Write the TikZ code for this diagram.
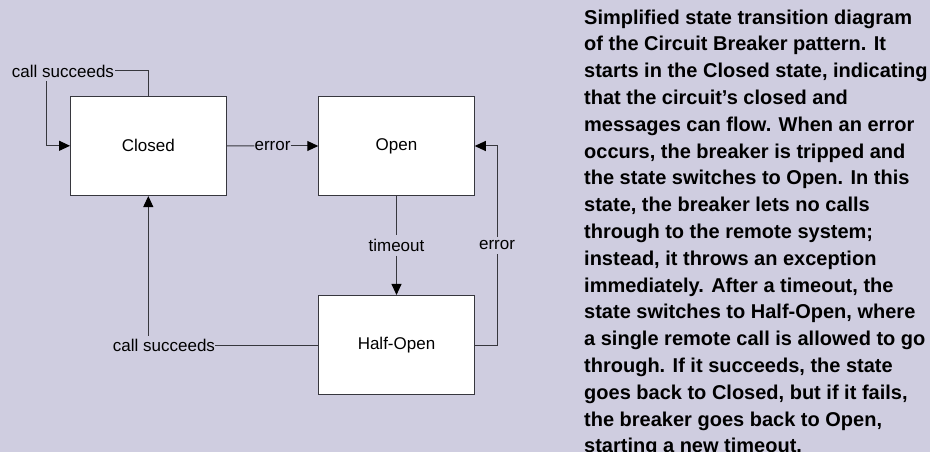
\documentclass[tikz,border=0pt]{standalone}
\usepackage{fontspec}
\setmainfont{Liberation Sans}
\usetikzlibrary{arrows.meta}
\definecolor{bgc}{RGB}{207,205,224}
\definecolor{linec}{RGB}{55,55,62}
\begin{document}
\begin{tikzpicture}[x=1bp,y=-1bp,
  statebox/.style={draw=linec,fill=white,line width=1bp,minimum width=155.5bp,minimum height=99.5bp,inner sep=0pt,font=\fontsize{17bp}{20bp}\selectfont},
  lbl/.style={inner sep=1bp,font=\fontsize{17bp}{20bp}\selectfont,text=black},
  conn/.style={draw=linec,line width=1bp},
  arr/.style={conn,-{Triangle[length=11bp,width=10bp,color=black]}}]
\fill[bgc] (0,0) rectangle (930,452);
\useasboundingbox (0,0) rectangle (930,452);
\node[statebox] (closed) at (148.3,145.8) {Closed};
\node[statebox] (open) at (396.5,146) {Open};
\node[statebox] (half) at (396.5,345.2) {Half-Open};
\node[lbl] (cs1) at (63,71) {call succeeds};
\node[lbl,inner xsep=0pt] (e1) at (272.5,146) {error};
\node[lbl,inner ysep=4bp] (to) at (396.5,245.5) {timeout};
\node[lbl,inner ysep=4bp] (e2) at (497,245.5) {error};
\node[lbl,inner xsep=0pt] (cs2) at (164,345.2) {call succeeds};
\draw[conn] (cs1.east) -| (closed.north);
\draw[arr] ([xshift=36bp,yshift=-3bp]cs1.south west) |- (closed.west);
\draw[conn] (closed.east) -- (e1.west);
\draw[arr] (e1.east) -- (open.west);
\draw[conn] (open.south) -- (to.north);
\draw[arr] (to.south) -- (half.north);
\draw[conn] (half.east) -| (e2.south);
\draw[arr] (e2.north) |- (open.east);
\draw[conn] (cs2.east) -- (half.west);
\draw[arr] ([yshift=2bp]cs2.north -| closed.south) -- (closed.south);
\node[anchor=north west,inner sep=0pt,align=left,
  font=\bfseries\fontsize{20bp}{26.8bp}\selectfont] (cap) at (584,9.5) {%
Simplified state transition diagram\\
of the Circuit Breaker pattern. It\\
starts in the Closed state, indicating\\
that the circuit’s closed and\\
messages can flow. When an error\\
occurs, the breaker is tripped and\\
the state switches to Open. In this\\
state, the breaker lets no calls\\
through to the remote system;\\
instead, it throws an exception\\
immediately. After a timeout, the\\
state switches to Half-Open, where\\
a single remote call is allowed to go\\
through. If it succeeds, the state\\
goes back to Closed, but if it fails,\\
the breaker goes back to Open,\\
starting a new timeout.};
\end{tikzpicture}
\end{document}
